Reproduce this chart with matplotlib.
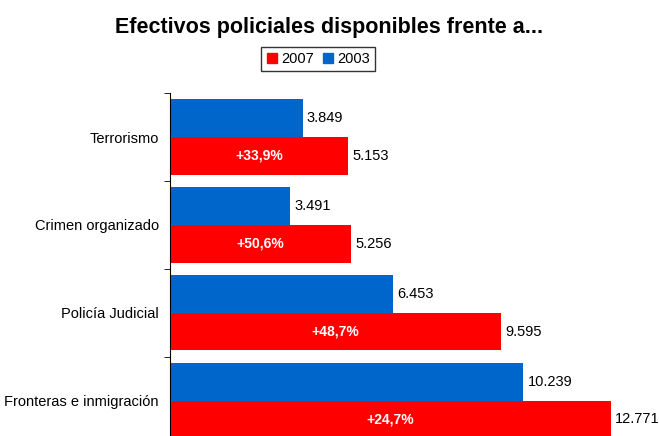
import matplotlib
matplotlib.use("Agg")
import matplotlib.pyplot as plt
from matplotlib.patches import Patch

plt.rcParams['font.family'] = ['Liberation Sans', 'DejaVu Sans']

categories = ["Terrorismo", "Crimen organizado", "Policía Judicial", "Fronteras e inmigración"]
values_2003 = [3849, 3491, 6453, 10239]
values_2007 = [5153, 5256, 9595, 12771]
labels_2003 = ["3.849", "3.491", "6.453", "10.239"]
labels_2007 = ["5.153", "5.256", "9.595", "12.771"]
growth = ["+33,9%", "+50,6%", "+48,7%", "+24,7%"]

blue = "#0066CC"
red = "#FF0000"

fig = plt.figure(figsize=(6.59, 4.36), dpi=100)
ax = fig.add_axes([0.258, -0.0195, 0.733, 0.806])

y = list(range(len(categories)))
h = 0.43
y_blue = [i - 0.215 for i in y]
y_red = [i + 0.215 for i in y]
ax.barh(y_blue, values_2003, height=h, color=blue)
ax.barh(y_red, values_2007, height=h, color=red)

for i in y:
    ax.text(values_2003[i] + 120, y_blue[i], labels_2003[i], va="center", ha="left", fontsize=10.5)
    ax.text(values_2007[i] + 120, y_red[i], labels_2007[i], va="center", ha="left", fontsize=10.5)
    ax.text(values_2007[i] / 2, y_red[i], growth[i], va="center", ha="center",
            fontsize=10, color="white", fontweight="bold")

ax.set_xlim(0, 14000)
ax.set_ylim(len(categories) - 0.5, -0.5)
ax.set_yticks(y)
ax.set_yticklabels(categories, fontsize=10.5)
ax.set_yticks([i - 0.5 for i in range(len(categories) + 1)], minor=True)
ax.tick_params(axis="y", which="major", length=0, pad=8)
ax.tick_params(axis="y", which="minor", length=4, direction="out")
ax.set_xticks([])
for s in ["top", "right", "bottom"]:
    ax.spines[s].set_visible(False)

fig.text(0.5, 0.938, "Efectivos policiales disponibles frente a...", ha="center", va="center",
         fontsize=15.5, fontweight="bold")

handles = [Patch(color=red, label="2007"), Patch(color=blue, label="2003")]
fig.legend(handles=handles, loc="center", bbox_to_anchor=(0.483, 0.865), ncol=2,
           fontsize=10.5, frameon=True, fancybox=False, edgecolor="black",
           handlelength=0.7, handleheight=0.7, handletextpad=0.3, columnspacing=0.6,
           borderpad=0.35)

fig.savefig("out.png", dpi=100)
